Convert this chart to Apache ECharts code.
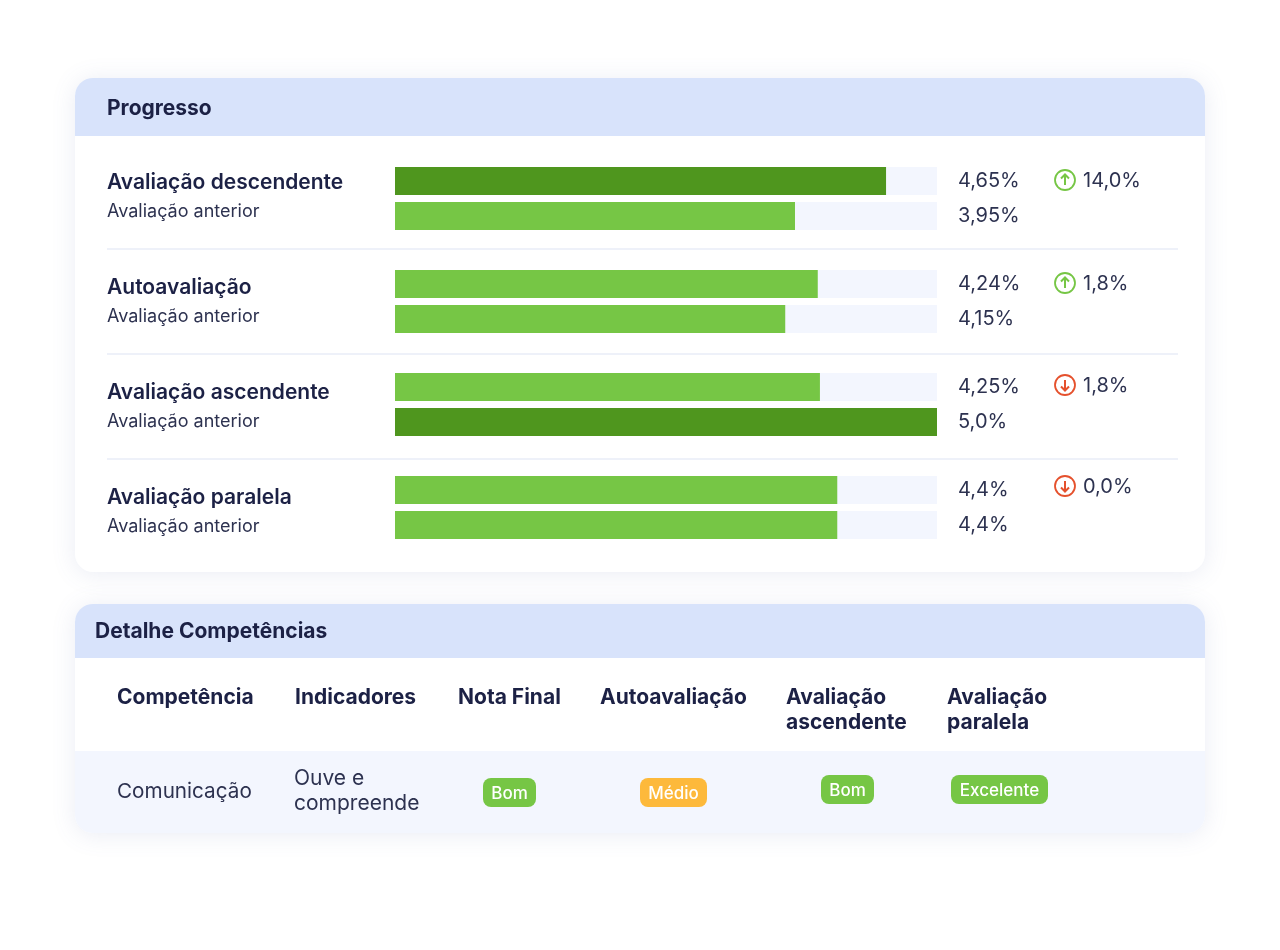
<!DOCTYPE html>
<html lang="pt">
<head>
    <meta charset="UTF-8">
    <title>Progresso</title>
    <script src="https://cdn.jsdelivr.net/npm/echarts@6/dist/echarts.min.js"></script>
    <style>
        html, body { margin: 0; padding: 0; background: #fff; }
        #main { width: 1280px; height: 950px; }
    </style>
</head>
<body>
<div id="main"></div>
<script>
    // progresso
    const categories = ['Avaliação descendente', 'Autoavaliação', 'Avaliação ascendente', 'Avaliação paralela'];
    const previousName = 'Avaliação anterior';
    const currentValues = [4.53, 3.90, 3.92, 4.08];   // bar length
    const previousValues = [3.69, 3.60, 5.0, 4.08];
    const currentLabels = ['4,65%', '4,24%', '4,25%', '4,4%'];
    const previousLabels = ['3,95%', '4,15%', '5,0%', '4,4%'];
    const changeLabels = ['14,0%', '1,8%', '1,8%', '0,0%'];
    const changeDirections = ['up', 'up', 'down', 'down'];

    // detalhe competências
    const tableHeaders = ['Competência', 'Indicadores', 'Nota Final', 'Autoavaliação', 'Avaliação\nascendente', 'Avaliação\nparalela'];
    const competence = 'Comunicação';
    const indicator = 'Ouve e\ncompreende';
    const grades = ['Bom', 'Médio', 'Bom', 'Excelente'];

    const FONT = 'Inter, "Noto Sans", sans-serif';
    const NAVY = '#1c2145';
    const SOFT = '#2d3250';
    const LIGHT_GREEN = '#76c645';
    const DARK_GREEN = '#4f961e';
    const RED = '#e5512d';
    const TRACK = '#f3f6fe';
    const HEADER = '#d8e3fb';

    // layout
    const rowTops = [163.5, 266.5, 369.5, 472.5];
    const nameY = [183, 288, 393, 498];
    const subY = [212, 317, 422, 527];
    const changeY = [180, 283, 385, 486];
    const dividerY = [249, 354, 459];
    const headerX = [117, 295, 458, 600, 786, 947];
    const badgeBoxes = [
        {x: 483, y: 778, w: 53},
        {x: 640, y: 778, w: 67},
        {x: 821, y: 775, w: 53},
        {x: 951, y: 775, w: 97}
    ];

    function text(x, y, str, font, fill, align, extra) {
        return {
            type: 'text', z: 5, silent: true,
            style: Object.assign({
                x: x, y: y, text: str, font: font + ' ' + FONT, fill: fill,
                textAlign: align || 'left', textVerticalAlign: 'middle'
            }, extra || {})
        };
    }

    function card(y, h, shape) {
        return {
            type: 'rect', z: 1, silent: true,
            shape: {x: 75, y: y, width: 1130, height: h, r: shape},
            style: {fill: '#fff', shadowBlur: 24, shadowColor: 'rgba(90,110,170,0.13)', shadowOffsetY: 2}
        };
    }

    function band(y, h, r, fill) {
        return {
            type: 'rect', z: 2, silent: true,
            shape: {x: 75, y: y, width: 1130, height: h, r: r},
            style: {fill: fill}
        };
    }

    function arrowIcon(y, dir) {
        const color = dir === 'up' ? LIGHT_GREEN : RED;
        const sign = dir === 'up' ? -1 : 1;
        return {
            type: 'group', x: 1065, y: y, silent: true,
            children: [
                {type: 'circle', z: 5, shape: {cx: 0, cy: 0, r: 10}, style: {fill: 'none', stroke: color, lineWidth: 1.8}},
                {type: 'line', z: 5, shape: {x1: 0, y1: -5 * sign, x2: 0, y2: 5.5 * sign}, style: {stroke: color, lineWidth: 2}},
                {type: 'polyline', z: 5, shape: {points: [[-4, 1.5 * sign], [0, 5.5 * sign], [4, 1.5 * sign]]}, style: {fill: 'none', stroke: color, lineWidth: 2}}
            ]
        };
    }

    let elements = [
        card(78, 494, 18),
        card(604, 229, 18),
        band(78, 58, [18, 18, 0, 0], HEADER),
        band(604, 54, [18, 18, 0, 0], HEADER),
        band(751, 82, [0, 0, 18, 18], TRACK),
        text(107, 108.5, 'Progresso', '700 21px', NAVY),
        text(95, 631.5, 'Detalhe Competências', '700 21px', NAVY)
    ];

    dividerY.forEach(function (y) {
        elements.push({
            type: 'line', z: 2, silent: true,
            shape: {x1: 107, y1: y, x2: 1178, y2: y},
            style: {stroke: '#eef1f9', lineWidth: 2}
        });
    });

    categories.forEach(function (name, i) {
        elements.push(text(107, nameY[i], name, '600 21px', NAVY));
        elements.push(text(107, subY[i], previousName, '400 18px', SOFT));
        elements.push(arrowIcon(changeY[i], changeDirections[i]));
        elements.push(text(1083, changeY[i] + 1, changeLabels[i], '400 20px', SOFT));
    });

    tableHeaders.forEach(function (h, i) {
        elements.push(text(headerX[i], h.indexOf('\n') > 0 ? 710 : 697.5, h, '700 21px', NAVY, 'left', {lineHeight: 25}));
    });
    elements.push(text(117, 791.5, competence, '400 20.7px', SOFT));
    elements.push(text(294, 791, indicator, '400 21px', SOFT, 'left', {lineHeight: 25}));

    grades.forEach(function (g, i) {
        const b = badgeBoxes[i];
        elements.push({
            type: 'rect', z: 4, silent: true,
            shape: {x: b.x, y: b.y, width: b.w, height: 29, r: 8},
            style: {fill: g === 'Médio' ? '#fdb93b' : LIGHT_GREEN}
        });
        elements.push(text(b.x + b.w / 2, b.y + 16, g, '500 17px', '#fff', 'center'));
    });

    // one small grid per row so the uneven gaps between the groups stay as drawn
    const grids = [], xAxes = [], yAxes = [], series = [];
    categories.forEach(function (name, i) {
        grids.push({left: 395, width: 542, top: rowTops[i], height: 70});
        xAxes.push({type: 'value', gridIndex: i, min: 0, max: 5, show: false});
        yAxes.push({
            type: 'category', gridIndex: i, inverse: true, position: 'right', z: 5,
            data: [currentLabels[i], previousLabels[i]],
            axisLine: {show: false}, axisTick: {show: false}, splitLine: {show: false},
            axisLabel: {margin: 21, padding: [4, 0, 0, 0], fontFamily: FONT, fontSize: 20, color: SOFT}
        });
        series.push({
            type: 'bar', name: name, xAxisIndex: i, yAxisIndex: i, barWidth: 28,
            showBackground: true,
            backgroundStyle: {color: TRACK},
            itemStyle: {
                color: function (p) { return p.value >= 4.5 ? DARK_GREEN : LIGHT_GREEN; }
            },
            data: [currentValues[i], previousValues[i]]
        });
    });

    const myChart = echarts.init(document.getElementById('main'), null, {renderer: 'canvas'});
    myChart.setOption({
        animation: false,
        backgroundColor: '#fff',
        tooltip: {show: false},
        graphic: {elements: elements},
        grid: grids,
        xAxis: xAxes,
        yAxis: yAxes,
        series: series
    });
</script>
</body>
</html>
